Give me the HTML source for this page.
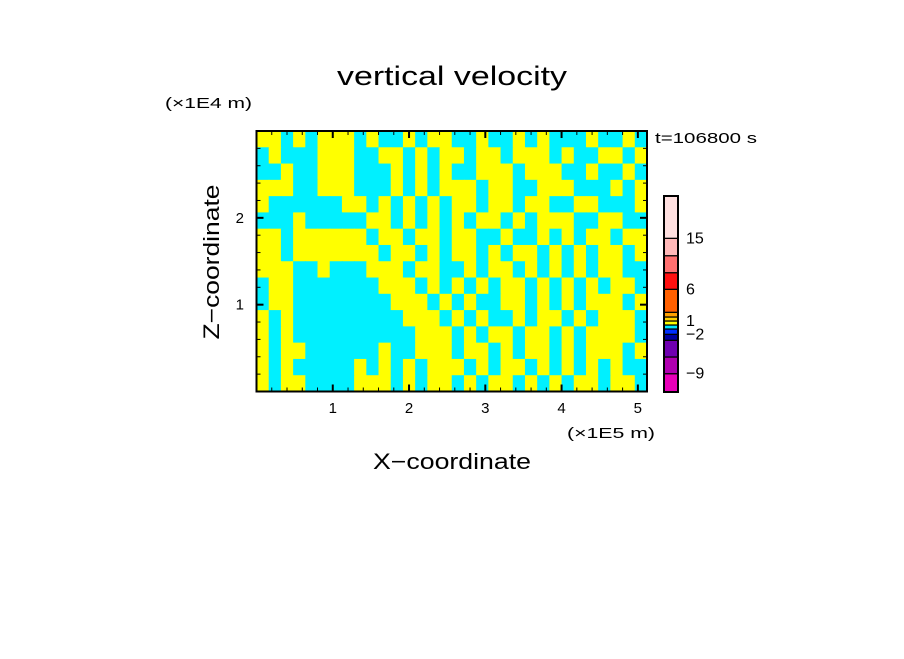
<!DOCTYPE html>
<html><head><meta charset="utf-8"><style>
body{margin:0;background:#fff;width:904px;height:654px;overflow:hidden}
svg text{font-family:"Liberation Sans",sans-serif;fill:#000}
</style></head><body>
<svg id="chart" width="904" height="654" viewBox="0 0 904 654" xmlns="http://www.w3.org/2000/svg">
<text x="452" y="85" font-size="27" text-anchor="middle" textLength="230" lengthAdjust="spacingAndGlyphs">vertical velocity</text>
<text x="165" y="108" font-size="15" textLength="87" lengthAdjust="spacingAndGlyphs">(×1E4 m)</text>
<text x="655" y="143" font-size="15" textLength="102" lengthAdjust="spacingAndGlyphs">t=106800 s</text>
<text x="567" y="438" font-size="15" textLength="88" lengthAdjust="spacingAndGlyphs">(×1E5 m)</text>
<text x="452" y="469" font-size="22" text-anchor="middle" textLength="158" lengthAdjust="spacingAndGlyphs">X−coordinate</text>
<text x="219" y="262" font-size="22" text-anchor="middle" textLength="155" lengthAdjust="spacingAndGlyphs" transform="rotate(-90 219 262)">Z−coordinate</text>
<g id="field"></g>
<g id="axes"></g>
<g id="cbar"></g>
</svg>
<script>
const fieldRows = [
"YYCYCYYYCYCCYCYYCCYCCYCYCCCYCCYC",
"CYCCCYYYCCYYCYCYYCYYCYYYCYCCYYCY",
"CCYCCYYYCCCYCYCYCCYYYCYYYCCYCCYC",
"YYYCCYYYCCCYCYCYYYCYYCCYYYCCCYCY",
"YCCCCCCYYCYCYCYCYYCYYCYYCCYYCCCY",
"CCCYCCCCCYYCYCYCYCYYCYCYYYCCYYCC",
"YYCYYYYYYCYYCYYCYYCCYCCYCYCYYCYY",
"YYCYYYYYYYCYYCYCYYCYCYYCYCYCYYCY",
"YYYCCYCCCYYYCYYCCYCYYCYCYCYCYYCC",
"CYYCCCCCCCYYYCYCYCYCYYCYCYCYCYYC",
"CYYCCCCCCCCYYYCYCYCCYYCYCYCYYYCY",
"YCYCCCCCCCCCYYYCYCYCCYCYYCYCYYYC",
"YCYCCCCCCCCCCYYYCYCYYCYYCYCYYYYC",
"YCYYCCCCCCYCCYYYCYYCYCYYCYCYYYCY",
"YCYCCCCCYCYCYCYYYCYCYYCYCYCYCYCC",
"YCYYCCCCYYYCYCYYCYCYYCYCYCYYCYYC"
];
const xTicks = [1,2,3,4,5];
const yTicks = [1,2];
const cbarLevels = [-12,-9,-6,-3,-2,-1,0,1,2,3,6,9,12,15,20];
const cbarColors = ["#e800b8","#b000b0","#7000b0","#0000a0","#0030ff","#00e8ff","#ffff00","#ffd000","#ffa000","#ff6000","#ff1010","#ff7070","#ffb8b8","#ffe0e0"];
const cbarLabels = [15,6,1,-2,-9];

const NS="http://www.w3.org/2000/svg";
const X0=256.5,X1=647,Y0=391.5,Y1=131;
const xMax=5.12, yMax=3.0;
const sx=v=>X0+(v/xMax)*(X1-X0);
const sy=v=>Y0-(v/yMax)*(Y0-Y1);
function mk(t,a,p){const e=document.createElementNS(NS,t);for(const k in a)e.setAttribute(k,a[k]);p.appendChild(e);return e;}

const field=document.getElementById('field');
const nr=fieldRows.length,nc=fieldRows[0].length;
const cw=(X1-X0)/nc,ch=(Y0-Y1)/nr;
fieldRows.forEach((row,r)=>{
  for(let c=0;c<nc;c++){
    const cell=mk('rect',{x:X0+c*cw,y:Y1+r*ch,width:cw+0.6,height:ch+0.6,fill:row[c]==='Y'?'#ffff00':'#00f0ff'},field);
    
    
  }
});

const axes=document.getElementById('axes');
const frame=mk('rect',{x:X0,y:Y1,width:X1-X0,height:Y0-Y1,fill:'none',stroke:'#000','stroke-width':2},axes);


for(let v=0.2;v<xMax;v+=0.2){
  const major=Math.abs(v-Math.round(v))<1e-6;const L=major?7:4;const x=sx(v);
  mk('line',{x1:x,y1:Y0,x2:x,y2:Y0-L,stroke:'#000','stroke-width':major?2:1},axes);
  mk('line',{x1:x,y1:Y1,x2:x,y2:Y1+L,stroke:'#000','stroke-width':major?2:1},axes);
}
for(let v=0.2;v<yMax;v+=0.2){
  const major=Math.abs(v-Math.round(v))<1e-6;const L=major?7:4;const y=sy(v);
  mk('line',{x1:X0,y1:y,x2:X0+L,y2:y,stroke:'#000','stroke-width':major?2:1},axes);
  mk('line',{x1:X1,y1:y,x2:X1-L,y2:y,stroke:'#000','stroke-width':major?2:1},axes);
}
xTicks.forEach(v=>{const t=mk('text',{x:sx(v),y:413,'font-size':15,'text-anchor':'middle'},axes);t.textContent=v;
  
  });
yTicks.forEach(v=>{const t=mk('text',{x:244,y:sy(v)+5,'font-size':15,'text-anchor':'end'},axes);t.textContent=v;
  
  });

const cb=document.getElementById('cbar');
const segEdges=[392,373.7,357,340.3,334.3,329,325,321,317,312.3,289.3,272.7,255.7,238.3,196];
const cbY=v=>{for(let i=0;i<cbarLevels.length-1;i++){if(v<=cbarLevels[i+1]){const f=(v-cbarLevels[i])/(cbarLevels[i+1]-cbarLevels[i]);return segEdges[i]+f*(segEdges[i+1]-segEdges[i]);}}return segEdges[segEdges.length-1];};
cbarColors.forEach((col,i)=>{
  const ya=cbY(cbarLevels[i]),yb=cbY(cbarLevels[i+1]);
  const r=mk('rect',{x:664,y:yb,width:14,height:ya-yb,fill:col,stroke:'#000','stroke-width':1.2},cb);
  
  
});
mk('rect',{x:664,y:196,width:14,height:196,fill:'none',stroke:'#000','stroke-width':2},cb);
cbarLabels.forEach(v=>{
  const t=mk('text',{x:686,y:cbY(v)+5,'font-size':16},cb);t.textContent=v<0?'−'+(-v):v;
  
  });
</script>
</body></html>
